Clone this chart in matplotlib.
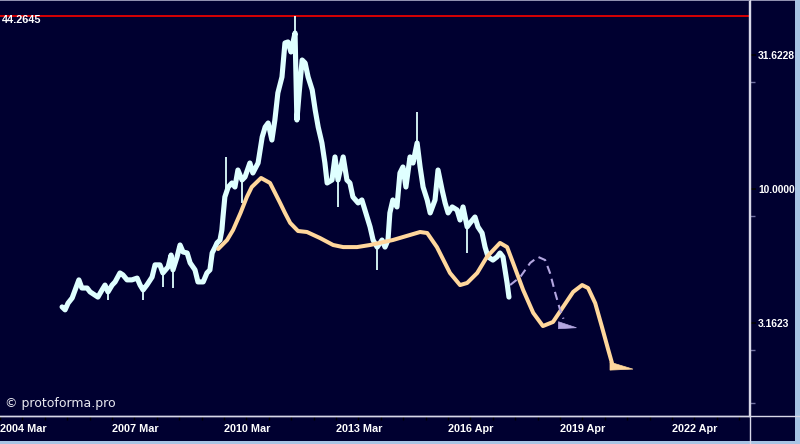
import matplotlib
matplotlib.use("Agg")
import matplotlib.pyplot as plt
import matplotlib.transforms as mtransforms
from matplotlib.patches import Polygon, Rectangle
from matplotlib.lines import Line2D
import numpy as np

# ---------------- data ----------------
price_t = [2005.83, 2005.91, 2005.99, 2006.10, 2006.18, 2006.28, 2006.36, 2006.50, 2006.58, 2006.71,
           2006.79, 2006.90, 2006.98, 2007.06, 2007.17, 2007.25, 2007.38, 2007.46, 2007.57, 2007.70,
           2007.84, 2007.92, 2008.00, 2008.10, 2008.24, 2008.32, 2008.45, 2008.53, 2008.67, 2008.75,
           2008.80, 2008.91, 2008.99, 2009.07, 2009.18, 2009.26, 2009.39, 2009.47, 2009.61, 2009.71,
           2009.79, 2009.85, 2009.93, 2009.98, 2010.06, 2010.11, 2010.14, 2010.19, 2010.28, 2010.38,
           2010.46, 2010.54, 2010.65, 2010.73, 2010.86, 2010.94, 2011.08, 2011.19, 2011.27, 2011.35,
           2011.45, 2011.53, 2011.61, 2011.72, 2011.80, 2011.88, 2011.96, 2012.07, 2012.12, 2012.18,
           2012.26, 2012.34, 2012.42, 2012.53, 2012.61, 2012.69, 2012.79, 2012.87, 2012.93, 2013.06,
           2013.14, 2013.22, 2013.36, 2013.46, 2013.54, 2013.62, 2013.76, 2013.86, 2014.00, 2014.08,
           2014.16, 2014.27, 2014.40, 2014.48, 2014.56, 2014.61, 2014.69, 2014.80, 2014.88, 2014.96,
           2015.04, 2015.15, 2015.23, 2015.34, 2015.42, 2015.50, 2015.61, 2015.69, 2015.82, 2015.90,
           2016.01, 2016.09, 2016.17, 2016.28, 2016.41, 2016.49, 2016.57, 2016.68, 2016.76, 2016.89,
           2016.97, 2017.08, 2017.16, 2017.24, 2017.37, 2017.48, 2017.56, 2017.64, 2017.75, 2017.80]
price_v = [3.63, 3.54, 3.75, 3.92, 4.20, 4.58, 4.27, 4.27, 4.13, 4.02,
           3.95, 4.20, 4.38, 4.13, 4.38, 4.50, 4.86, 4.78, 4.58, 4.58,
           4.65, 4.38, 4.20, 4.38, 4.69, 5.21, 5.21, 4.86, 5.12, 5.67,
           4.99, 5.58, 6.18, 5.82, 5.77, 5.30, 4.99, 4.50, 4.50, 4.86,
           4.99, 5.77, 6.07, 6.29, 6.45, 7.03, 7.86, 9.34, 10.17, 10.53,
           10.17, 11.77, 10.80, 11.09, 12.50, 11.47, 12.50, 15.63, 17.03, 17.63,
           15.23, 18.09, 22.82, 26.18, 35.06, 35.37, 32.45, 38.20, 18.09, 22.82,
           30.29, 29.52, 26.18, 23.41, 19.71, 17.03, 14.85, 12.50, 10.53, 10.80,
           13.17, 10.80, 13.17, 10.80, 10.53, 9.34, 8.87, 9.10, 7.86, 7.22,
           6.45, 6.07, 6.45, 6.07, 6.45, 8.14, 9.10, 8.57, 11.47, 12.08,
           10.17, 13.17, 12.50, 14.85, 12.08, 10.17, 9.10, 8.14, 9.10, 11.77,
           9.91, 8.87, 8.14, 8.57, 8.35, 7.66, 8.57, 7.22, 7.47, 7.86,
           7.22, 6.85, 6.07, 5.58, 5.43, 5.58, 5.77, 5.58, 4.46, 3.95]

wick_t = [2007.06, 2008.00, 2008.53, 2008.80, 2010.22, 2010.65, 2012.07, 2013.22, 2014.27, 2015.34, 2016.68]
wick_lo = [3.85, 3.85, 4.31, 4.27, 9.00, 8.87, 36.0, 8.57, 4.99, 14.0, 5.77]
wick_hi = [4.30, 4.40, 4.90, 5.20, 13.17, 11.0, 44.26, 11.0, 6.20, 19.38, 7.40]

fc_t = [2010.01, 2010.25, 2010.41, 2010.61, 2010.78, 2010.91, 2011.05, 2011.16, 2011.40, 2011.67,
        2011.80, 2011.94, 2012.15, 2012.39, 2012.74, 2013.09, 2013.36, 2013.73, 2014.08, 2014.69,
        2015.42, 2015.61, 2015.87, 2016.22, 2016.49, 2016.68, 2016.95, 2017.21, 2017.56, 2017.75,
        2017.91, 2018.18, 2018.45, 2018.71, 2018.98, 2019.25, 2019.52, 2019.76, 2019.92, 2020.11,
        2020.29, 2020.46, 2020.56]
fc_v = [5.97, 6.45, 7.03, 8.14, 9.34, 10.17, 10.62, 10.99, 10.53, 8.87,
        8.14, 7.47, 6.97, 6.91, 6.56, 6.18, 6.07, 6.07, 6.18, 6.45,
        6.91, 6.85, 6.07, 4.86, 4.38, 4.46, 4.86, 5.58, 6.29, 6.07,
        5.30, 4.20, 3.45, 3.08, 3.19, 3.63, 4.13, 4.38, 4.27, 3.75,
        3.06, 2.51, 2.24]

alt_t = [2017.83, 2018.10, 2018.37, 2018.58, 2018.77, 2018.90, 2019.04, 2019.17, 2019.26]
alt_v = [4.38, 4.69, 5.30, 5.58, 5.43, 4.86, 4.09, 3.54, 3.28]

level_value = 44.2645
ytick_values = [3.1623, 10.0, 31.6228]
ytick_labels = ["3.1623", "10.0000", "31.6228"]
yminor_values = [10 ** 0.2, 10 ** 0.4, 10 ** 0.9, 10 ** 1.4]
xtick_values = [2004.167, 2007.167, 2010.167, 2013.167, 2016.167, 2019.167, 2022.167]
xtick_labels = ["2004 Mar", "2007 Mar", "2010 Mar", "2013 Mar", "2016 Apr", "2019 Apr", "2022 Apr"]

# ---------------- style ----------------
BG = "#000030"
PRICE = "#DFFFFF"
ORANGE = "#FFD79C"
LAV = "#B3A6E0"
FONT = "Liberation Sans"

fig = plt.figure(figsize=(8.0, 4.44), dpi=100, facecolor=BG)
ax = fig.add_axes([0.0, 28 / 444, 749 / 800, 416 / 444])
ax.set_facecolor(BG)
ax.set_yscale("log")
ax.set_xlim(2004.167, 2024.23)
ax.set_ylim(1.422, 50.72)

# level line
ax.axhline(level_value, color="#E80000", lw=1.3, zorder=2)

# price
ax.vlines(wick_t, wick_lo, wick_hi, color=PRICE, lw=1.3, zorder=3)
ax.plot(price_t, price_v, color=PRICE, lw=3.7, solid_joinstyle="round", solid_capstyle="round", zorder=3)

# forecast curves
ax.plot(fc_t, fc_v, color=ORANGE, lw=2.9, solid_joinstyle="round", solid_capstyle="round", zorder=4)
ax.plot(alt_t, alt_v, color=LAV, lw=1.5, ls=(0, (4, 2.5)), zorder=4)

def wedge(t, v, verts_px, color):
    tr = fig.dpi_scale_trans + mtransforms.ScaledTranslation(t, v, ax.transData)
    pts = [(x / 100.0, y / 100.0) for x, y in verts_px]
    ax.add_patch(Polygon(pts, closed=True, transform=tr, facecolor=color, edgecolor=color,
                         lw=0.5, zorder=5, clip_on=False))

wedge(fc_t[-1], fc_v[-1], [(-2, 1), (-2, -7), (21, -6)], ORANGE)
wedge(alt_t[-1], alt_v[-1], [(-5, -3), (-5, -10), (13, -9)], LAV)

# axes styling
for s in ["top", "left"]:
    ax.spines[s].set_visible(False)
ax.spines["right"].set_color("#D8D8E8")
ax.spines["bottom"].set_color("#D8D8E8")
ax.spines["right"].set_linewidth(1.0)
ax.spines["bottom"].set_linewidth(1.0)

ax.yaxis.tick_right()
ax.set_yticks(ytick_values)
ax.set_yticklabels(ytick_labels)
ax.set_yticks(yminor_values, minor=True)
ax.yaxis.set_minor_formatter(matplotlib.ticker.NullFormatter())
ax.tick_params(axis="y", which="major", length=5, width=1.2, color="#000000", pad=1.5,
               labelcolor="white", labelsize=7.4)
ax.tick_params(axis="y", which="minor", length=4, width=1.0, color="#7070A0")
for lab in ax.get_yticklabels():
    lab.set_fontfamily(FONT)
    lab.set_fontweight("bold")

ax.set_xticks(xtick_values)
ax.set_xticklabels(xtick_labels)
ax.set_xticks(np.arange(2004.167, 2024.2, 0.6), minor=True)
ax.tick_params(axis="x", which="both", length=3, width=1.0, color="#000000", pad=3,
               labelcolor="white", labelsize=7.8)
for lab in ax.get_xticklabels():
    lab.set_fontfamily(FONT)
    lab.set_fontweight("bold")
    lab.set_horizontalalignment("left")

# texts
fig.text(2 / 800, 1 - 20 / 444, "44.2645", color="white", fontsize=7.8, fontweight="bold",
         family=FONT, va="center", ha="left")
fig.text(5 / 800, 1 - 403 / 444, "\u00a9 protoforma.pro", color="#E8E8F0", fontsize=9,
         family="DejaVu Sans", va="center", ha="left")

# extended axis lines and borders
fig.add_artist(Line2D([749.5 / 800, 749.5 / 800], [0, 1], transform=fig.transFigure, color="#D8D8E8", lw=1.0))
fig.add_artist(Line2D([0, 1], [28 / 444, 28 / 444], transform=fig.transFigure, color="#D8D8E8", lw=1.0))
fig.add_artist(Rectangle((0, 1 - 1.5 / 444), 1, 1.5 / 444, transform=fig.transFigure, color="#9090B0", lw=0))
fig.add_artist(Rectangle((795 / 800, 0), 5 / 800, 1, transform=fig.transFigure, color="#A8C4E4", lw=0))
fig.add_artist(Rectangle((0, 0), 1, 3 / 444, transform=fig.transFigure, color="#A8C4E4", lw=0))

fig.savefig("out.png", dpi=100, facecolor=BG)
